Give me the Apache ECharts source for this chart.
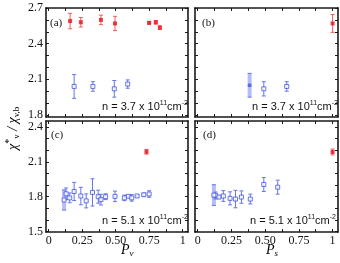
<!DOCTYPE html>
<html><head><meta charset="utf-8">
<script src="https://cdn.jsdelivr.net/npm/echarts@6/dist/echarts.min.js"></script>
<style>html,body{margin:0;padding:0;background:#fff}#c{width:340px;height:263px}</style>
</head><body><div id="c"></div>
<script>
// ---- tick values ----
const xTickVals = [0, 0.125, 0.25, 0.375, 0.5, 0.625, 0.75, 0.875, 1];
const xLabelVals = [0, 0.25, 0.5, 0.75, 1];
const yTopTicks = [1.8, 1.9, 2.0, 2.1, 2.2, 2.3, 2.4, 2.5, 2.6, 2.7];
const yTopLabels = [1.8, 2.1, 2.4, 2.7];
const yBotTicks = [1.5, 1.6, 1.7, 1.8, 1.9, 2.0, 2.1, 2.2, 2.3, 2.4];
const yBotLabels = [1.5, 1.8, 2.1, 2.4];

// ---- panel (a): vs P_v, n = 3.7 ----
const aRedX = [0.16, 0.24, 0.39, 0.495, 0.75, 0.80, 0.83];
const aRedY = [2.59, 2.58, 2.60, 2.57, 2.575, 2.58, 2.535];
const aRedE = [0.065, 0.04, 0.04, 0.06, 0.01, 0.015, 0.015];
const aBlueX = [0.19, 0.33, 0.49, 0.59];
const aBlueY = [2.04, 2.04, 2.02, 2.06];
const aBlueE = [0.10, 0.04, 0.07, 0.035];

// ---- panel (b): vs P_s, n = 3.7 ----
const bRedX = [1.0];
const bRedY = [2.57];
const bRedE = [0.075];
const bBlueX = [0.49, 0.66];
const bBlueY = [2.02, 2.04];
const bBlueE = [0.06, 0.04];
const bShadeX = [0.385];
const bShadeY = [2.05];
const bShadeE = [0.10];

// ---- panel (c): vs P_v, n = 5.1 ----
const cRedX = [0.73];
const cRedY = [2.186];
const cRedE = [0.02];
const cBlueX = [0.13, 0.157, 0.19, 0.24, 0.28, 0.327, 0.37, 0.39, 0.425, 0.495, 0.565, 0.595, 0.62, 0.66, 0.71, 0.75];
const cBlueY = [1.825, 1.79, 1.845, 1.806, 1.764, 1.837, 1.80, 1.775, 1.80, 1.803, 1.79, 1.803, 1.79, 1.806, 1.817, 1.823];
const cBlueE = [0.05, 0.042, 0.078, 0.075, 0.06, 0.117, 0.056, 0.046, 0.025, 0.045, 0.024, 0.01, 0.028, 0.008, 0.012, 0.028];
const cShadeX = [0.115];
const cShadeY = [1.772];
const cShadeE = [0.087];

// ---- panel (d): vs P_s, n = 5.1 ----
const dRedX = [1.0];
const dRedY = [2.184];
const dRedE = [0.025];
const dBlueX = [0.133, 0.158, 0.19, 0.24, 0.28, 0.324, 0.39, 0.49, 0.593];
const dBlueY = [1.81, 1.797, 1.806, 1.786, 1.78, 1.797, 1.78, 1.905, 1.882];
const dBlueE = [0.03, 0.01, 0.046, 0.056, 0.075, 0.053, 0.042, 0.06, 0.06];
const dShadeX = [0.12];
const dShadeY = [1.814];
const dShadeE = [0.089];

const RED = '#e8101a', RED_E = '#f05a5a';
const BLUE = '#4455e0', BLUE_E = '#6676ea', BLUE_SH = 'rgba(120,135,235,0.55)';
const AX = '#1a1a1a';
const SERIF = 'Liberation Serif';
const SANS = 'Liberation Sans';

const chart = echarts.init(document.getElementById('c'), null, {renderer: 'canvas'});

const grids = [
  {left: 46, top: 8, width: 142, height: 109},
  {left: 195, top: 8, width: 143, height: 109},
  {left: 46, top: 121, width: 142, height: 111},
  {left: 195, top: 121, width: 143, height: 111}
];

function fmtX(v) { return v === 0 ? '0' : (v === 1 ? '1' : v.toFixed(2)); }

const xAxes = [], yAxes = [];
grids.forEach((g, i) => {
  const showX = i >= 2, showY = (i % 2 === 0);
  const top = i < 2;
  const lineStyle = {color: AX, width: 1.6};
  const tick = (vals) => ({show: true, inside: true, length: 3, customValues: vals, lineStyle: {color: AX, width: 1}});
  xAxes.push({gridIndex: i, type: 'value', position: 'bottom', min: -0.02, max: 1.04,
    axisLine: {show: true, onZero: false, lineStyle},
    axisTick: tick(xTickVals), splitLine: {show: false},
    axisLabel: {show: showX, customValues: xLabelVals, formatter: fmtX, margin: 3,
      fontFamily: SERIF, fontSize: 12, color: '#111'}});
  xAxes.push({gridIndex: i, type: 'value', position: 'top', min: -0.02, max: 1.04,
    axisLine: {show: true, onZero: false, lineStyle},
    axisTick: tick(xTickVals), splitLine: {show: false}, axisLabel: {show: false}});
  const yr = top ? {min: 1.783, max: 2.7, t: yTopTicks, l: yTopLabels} : {min: 1.497, max: 2.45, t: yBotTicks, l: yBotLabels};
  yAxes.push({gridIndex: i, type: 'value', position: 'left', min: yr.min, max: yr.max,
    axisLine: {show: true, onZero: false, lineStyle},
    axisTick: tick(yr.t), splitLine: {show: false},
    axisLabel: {show: showY, customValues: yr.l, formatter: v => v.toFixed(1), margin: 3,
      fontFamily: SERIF, fontSize: 12, color: '#111'}});
  yAxes.push({gridIndex: i, type: 'value', position: 'right', min: yr.min, max: yr.max,
    axisLine: {show: true, onZero: false, lineStyle},
    axisTick: tick(yr.t), splitLine: {show: false}, axisLabel: {show: false}});
});

function zip3(x, y, e) { return x.map((v, k) => [v, y[k], e[k]]); }

function errSeries(i, data, color, cap) {
  return {type: 'custom', xAxisIndex: 2 * i, yAxisIndex: 2 * i, data, z: 3, silent: true,
    encode: {x: 0, y: 1},
    renderItem: function (params, api) {
      const x = api.value(0), y = api.value(1), e = api.value(2);
      const p1 = api.coord([x, y + e]), p2 = api.coord([x, y - e]);
      const st = {stroke: color, lineWidth: 1};
      return {type: 'group', children: [
        {type: 'line', shape: {x1: p1[0], y1: p1[1], x2: p2[0], y2: p2[1]}, style: st},
        {type: 'line', shape: {x1: p1[0] - cap, y1: p1[1], x2: p1[0] + cap, y2: p1[1]}, style: st},
        {type: 'line', shape: {x1: p2[0] - cap, y1: p2[1], x2: p2[0] + cap, y2: p2[1]}, style: st}
      ]};
    }};
}
function shadeSeries(i, data) {
  return {type: 'custom', xAxisIndex: 2 * i, yAxisIndex: 2 * i, data, z: 2, silent: true,
    encode: {x: 0, y: 1},
    renderItem: function (params, api) {
      const x = api.value(0), y = api.value(1), e = api.value(2);
      const p1 = api.coord([x, y + e]), p2 = api.coord([x, y - e]);
      const st = {stroke: BLUE_E, lineWidth: 1};
      return {type: 'group', children: [
        {type: 'rect', shape: {x: p1[0] - 2, y: p1[1], width: 4, height: p2[1] - p1[1]}, style: {fill: BLUE_SH}},
        {type: 'line', shape: {x1: p1[0] - 2, y1: p1[1], x2: p1[0] + 2, y2: p1[1]}, style: st},
        {type: 'line', shape: {x1: p2[0] - 2, y1: p2[1], x2: p2[0] + 2, y2: p2[1]}, style: st}
      ]};
    }};
}
function redPts(i, x, y) {
  return {type: 'scatter', xAxisIndex: 2 * i, yAxisIndex: 2 * i, data: x.map((v, k) => [v, y[k]]),
    symbol: 'rect', symbolSize: 4, z: 5, itemStyle: {color: RED}};
}
function bluePts(i, x, y) {
  return {type: 'scatter', xAxisIndex: 2 * i, yAxisIndex: 2 * i, data: x.map((v, k) => [v, y[k]]),
    symbol: 'rect', symbolSize: 4, z: 5, itemStyle: {color: '#fff', borderColor: BLUE, borderWidth: 1}};
}
function bluePtsFilled(i, x, y) {
  return {type: 'scatter', xAxisIndex: 2 * i, yAxisIndex: 2 * i, data: x.map((v, k) => [v, y[k]]),
    symbol: 'circle', symbolSize: 4, z: 5, itemStyle: {color: BLUE}};
}

const series = [
  errSeries(0, zip3(aRedX, aRedY, aRedE), RED_E, 2), redPts(0, aRedX, aRedY),
  errSeries(0, zip3(aBlueX, aBlueY, aBlueE), BLUE_E, 2), bluePts(0, aBlueX, aBlueY),
  errSeries(1, zip3(bRedX, bRedY, bRedE), RED_E, 2), redPts(1, bRedX, bRedY),
  errSeries(1, zip3(bBlueX, bBlueY, bBlueE), BLUE_E, 2), bluePts(1, bBlueX, bBlueY),
  shadeSeries(1, zip3(bShadeX, bShadeY, bShadeE)), bluePtsFilled(1, bShadeX, bShadeY),
  errSeries(2, zip3(cRedX, cRedY, cRedE), RED_E, 2), redPts(2, cRedX, cRedY),
  errSeries(2, zip3(cBlueX, cBlueY, cBlueE), BLUE_E, 2), bluePts(2, cBlueX, cBlueY),
  shadeSeries(2, zip3(cShadeX, cShadeY, cShadeE)), bluePts(2, cShadeX, cShadeY),
  errSeries(3, zip3(dRedX, dRedY, dRedE), RED_E, 2), redPts(3, dRedX, dRedY),
  errSeries(3, zip3(dBlueX, dBlueY, dBlueE), BLUE_E, 2), bluePts(3, dBlueX, dBlueY),
  shadeSeries(3, zip3(dShadeX, dShadeY, dShadeE)), bluePts(3, dShadeX, dShadeY)
];

const nRich = {
  t: {fontFamily: SANS, fontSize: 11, color: '#111'},
  s: {fontFamily: SANS, fontSize: 7, color: '#111', verticalAlign: 'top', padding: [0, 0, 7, 0]}
};
function nText(x, y, val) {
  return {type: 'text', left: x, top: y, z: 10,
    style: {text: '{t|n = ' + val + ' x 10}{s|11}{t|cm}{s|-2}', rich: nRich, fill: '#111'}};
}
function panelLabel(x, y, s) {
  return {type: 'text', left: x, top: y, z: 10, style: {text: s, fontFamily: SERIF, fontSize: 11, fill: '#111'}};
}
const axRich = {
  p: {fontFamily: SERIF, fontStyle: 'italic', fontSize: 14, color: '#111'},
  sb: {fontFamily: SERIF, fontStyle: 'italic', fontSize: 9, color: '#111', padding: [8, 0, 0, 0]}
};

chart.setOption({
  animation: false,
  backgroundColor: '#fff',
  grid: grids,
  xAxis: xAxes,
  yAxis: yAxes,
  series,
  graphic: [
    panelLabel(50, 18, '(a)'), panelLabel(202, 18, '(b)'),
    panelLabel(51, 130, '(c)'), panelLabel(203, 130, '(d)'),
    nText(102, 100, '3.7'), nText(252, 100, '3.7'),
    nText(102, 214, '5.1'), nText(250, 214, '5.1'),
    {type: 'text', left: 121, top: 243, style: {text: '{p|P}{sb|v}', rich: axRich}},
    {type: 'text', left: 266, top: 243, style: {text: '{p|P}{sb|s}', rich: axRich}},
    {type: 'text', x: 4, y: 150, rotation: Math.PI / 2, z: 10,
      style: {text: '{c|χ}{sp|*}{sb|v}{c| / χ}{sb|v,b}', rich: {
        c: {fontFamily: SERIF, fontStyle: 'italic', fontSize: 14, color: '#111'},
        sp: {fontFamily: SERIF, fontSize: 10, color: '#111', padding: [0, 0, 8, 0]},
        sb: {fontFamily: SERIF, fontSize: 9, color: '#111', padding: [8, 0, 0, 0]}
      }}}
  ]
});
</script>
</body></html>
